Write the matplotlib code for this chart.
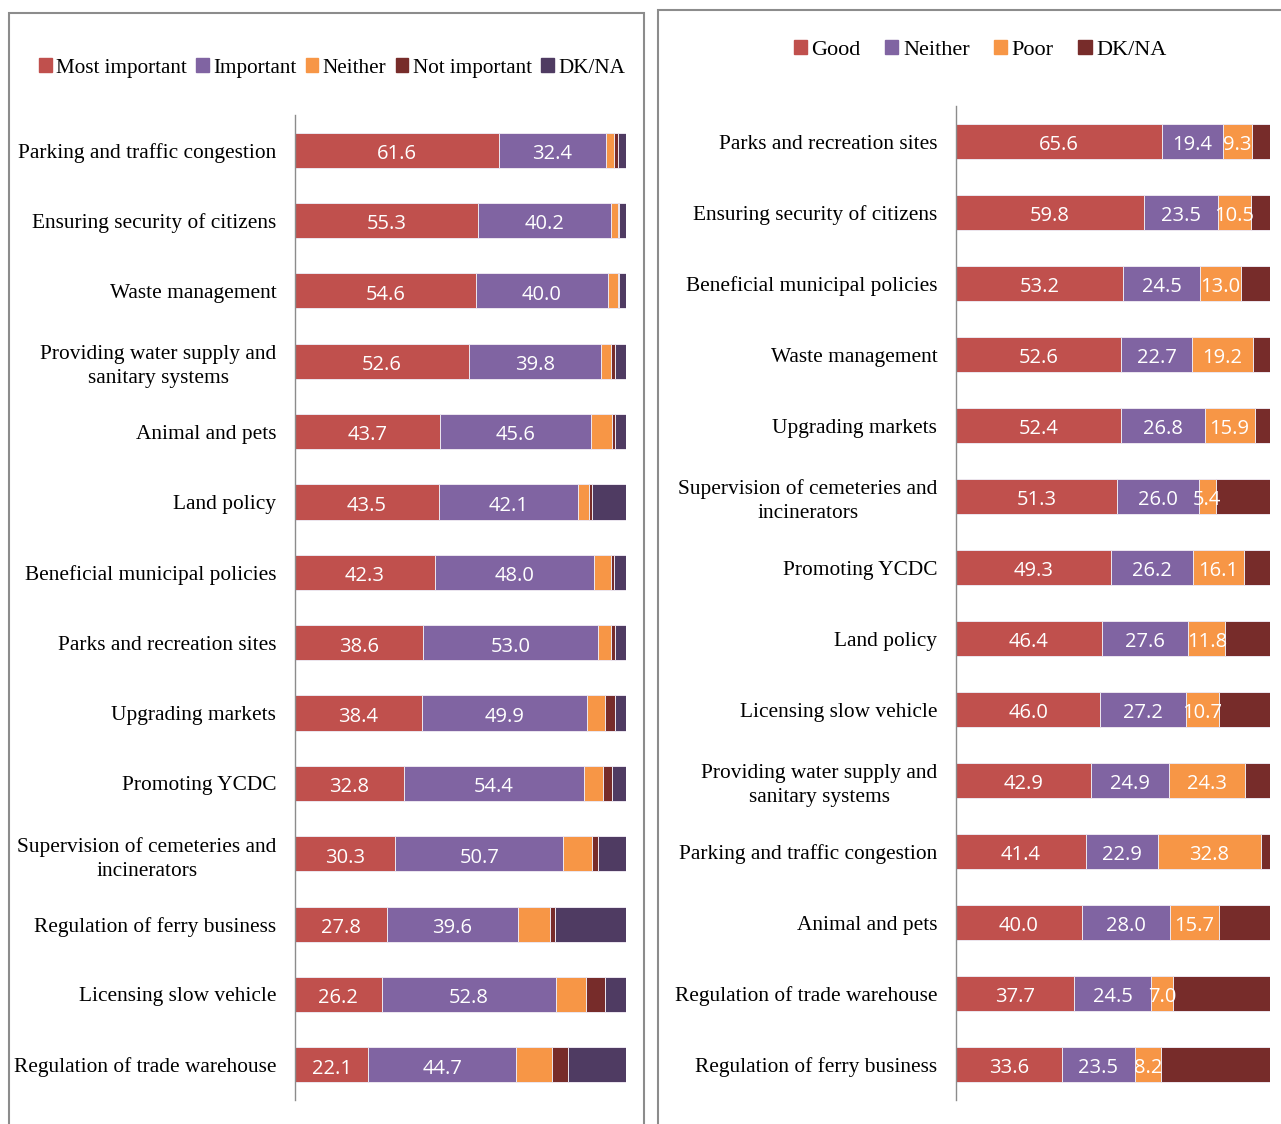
import numpy as np
import matplotlib.pyplot as plt
from matplotlib.patches import Patch, Rectangle

# Importance of municipal services (left panel), in %
imp_services = [
    'Parking and traffic congestion', 'Ensuring security of citizens',
    'Waste management', 'Providing water supply and\nsanitary systems',
    'Animal and pets', 'Land policy', 'Beneficial municipal policies',
    'Parks and recreation sites', 'Upgrading markets', 'Promoting YCDC',
    'Supervision of cemeteries and\nincinerators', 'Regulation of ferry business',
    'Licensing slow vehicle', 'Regulation of trade warehouse',
]
most_important = [61.6, 55.3, 54.6, 52.6, 43.7, 43.5, 42.3, 38.6, 38.4, 32.8, 30.3, 27.8, 26.2, 22.1]
important = [32.4, 40.2, 40.0, 39.8, 45.6, 42.1, 48.0, 53.0, 49.9, 54.4, 50.7, 39.6, 52.8, 44.7]
imp_neither = [2.5, 2.0, 3.0, 3.0, 6.4, 3.1, 5.2, 3.8, 5.4, 5.8, 8.6, 9.5, 8.8, 10.8]
not_important = [1.2, 0.4, 0.3, 1.3, 0.9, 1.0, 1.0, 1.3, 3.0, 2.7, 1.9, 1.5, 5.9, 4.8]
imp_dkna = [2.3, 2.1, 2.1, 3.3, 3.4, 10.3, 3.5, 3.3, 3.3, 4.3, 8.5, 21.6, 6.3, 17.6]

# Performance rating of the same services (right panel), in %
perf_services = [
    'Parks and recreation sites', 'Ensuring security of citizens',
    'Beneficial municipal policies', 'Waste management', 'Upgrading markets',
    'Supervision of cemeteries and\nincinerators', 'Promoting YCDC', 'Land policy',
    'Licensing slow vehicle', 'Providing water supply and\nsanitary systems',
    'Parking and traffic congestion', 'Animal and pets',
    'Regulation of trade warehouse', 'Regulation of ferry business',
]
good = [65.6, 59.8, 53.2, 52.6, 52.4, 51.3, 49.3, 46.4, 46.0, 42.9, 41.4, 40.0, 37.7, 33.6]
perf_neither = [19.4, 23.5, 24.5, 22.7, 26.8, 26.0, 26.2, 27.6, 27.2, 24.9, 22.9, 28.0, 24.5, 23.5]
poor = [9.3, 10.5, 13.0, 19.2, 15.9, 5.4, 16.1, 11.8, 10.7, 24.3, 32.8, 15.7, 7.0, 8.2]
perf_dkna = [5.7, 6.2, 9.3, 5.5, 4.9, 17.3, 8.4, 14.2, 16.1, 7.9, 2.9, 16.3, 30.8, 34.7]

RED = '#C0504D'
PURPLE = '#8064A2'
ORANGE = '#F79646'
MAROON = '#772C2A'
DARKPURPLE = '#4F3B62'

W, H = 1281, 1124
fig = plt.figure(figsize=(W / 100, H / 100), dpi=100)

serif = ['Liberation Serif', 'DejaVu Serif']


def px_axes(x0, x1, y0, y1):
    return fig.add_axes([x0 / W, 1 - y1 / H, (x1 - x0) / W, (y1 - y0) / H])


def stacked(ax, labels, series, colors, n_labeled):
    y = np.arange(len(labels))
    left = np.zeros(len(labels))
    for i, (vals, c) in enumerate(zip(series, colors)):
        vals = np.array(vals)
        ax.barh(y, vals, left=left, height=0.5, color=c,
                edgecolor='#ece6ef', linewidth=0.7)
        if i < n_labeled:
            for yy, l, v in zip(y, left, vals):
                ax.annotate(f'{v:.1f}', (l + v / 2, yy), xytext=(0, -2.8),
                            textcoords='offset points', ha='center', va='center',
                            color='white', fontsize=14.5,
                            family=['Open Sans', 'DejaVu Sans'])
        left += vals
    ax.set_xlim(0, 100)
    ax.set_ylim(len(labels) - 0.5, -0.5)
    ax.set_yticks(y)
    ax.set_yticklabels(labels, family=serif, fontsize=15.4, linespacing=1.35)
    for t in ax.get_yticklabels():
        t.set_multialignment('center')
    ax.tick_params(axis='y', length=0, pad=13.5)
    ax.set_xticks([])
    for s in ['top', 'right', 'bottom']:
        ax.spines[s].set_visible(False)
    ax.spines['left'].set_color('#8c8c8c')
    ax.spines['left'].set_linewidth(1.0)


# panel frames
fig.patches.append(Rectangle((9 / W, -0.01), 635 / W, 1 - 13 / H + 0.01, transform=fig.transFigure,
                             fill=False, edgecolor='#8c8c8c', linewidth=1.5))
fig.patches.append(Rectangle((658 / W, -0.01), 640 / W, 1 - 10 / H + 0.01, transform=fig.transFigure,
                             fill=False, edgecolor='#8c8c8c', linewidth=1.5))

ax1 = px_axes(295, 626, 115, 1100)
stacked(ax1, imp_services,
        [most_important, important, imp_neither, not_important, imp_dkna],
        [RED, PURPLE, ORANGE, MAROON, DARKPURPLE], 2)

ax2 = px_axes(956, 1270, 106, 1100)
stacked(ax2, perf_services,
        [good, perf_neither, poor, perf_dkna],
        [RED, PURPLE, ORANGE, MAROON], 3)

leg1_names = ['Most important', 'Important', 'Neither', 'Not important', 'DK/NA']
leg1_colors = [RED, PURPLE, ORANGE, MAROON, DARKPURPLE]
fig.legend([Patch(color=c) for c in leg1_colors], leg1_names,
           loc='center', bbox_to_anchor=(332 / W, 1 - 68 / H), ncol=5, frameon=False,
           prop={'family': serif, 'size': 15.2}, handlelength=0.6, handleheight=0.6,
           handletextpad=0.2, columnspacing=0.45)

leg2_names = ['Good', 'Neither', 'Poor', 'DK/NA']
leg2_colors = [RED, PURPLE, ORANGE, MAROON]
fig.legend([Patch(color=c) for c in leg2_colors], leg2_names,
           loc='center', bbox_to_anchor=(980 / W, 1 - 50 / H), ncol=4, frameon=False,
           prop={'family': serif, 'size': 16}, handlelength=0.6, handleheight=0.6,
           handletextpad=0.2, columnspacing=1.1)

plt.savefig('out.png', dpi=100)
